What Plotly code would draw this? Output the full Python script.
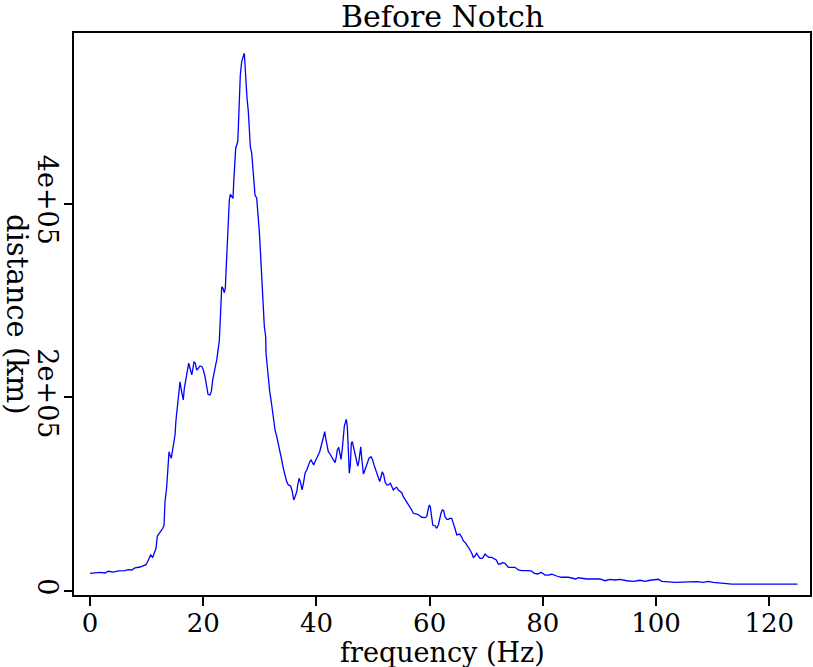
import plotly.graph_objects as go

# frequency (Hz) and amplitude (in thousands)
freq = [0, 0.88, 1.77, 2.65, 3.23, 4.12, 5.0, 6.18, 6.77, 7.37, 7.95, 8.83, 9.42, 9.89, 10.12,
        10.48, 10.72, 11.08, 11.36, 11.66, 11.89, 12.14, 12.4, 12.8, 13.07, 13.25, 13.55, 13.78,
        13.96, 14.13, 14.36, 14.54, 14.79, 15.02, 15.19, 15.42, 15.67, 15.9, 16.08, 16.31, 16.48,
        16.66, 16.96, 17.19, 17.44, 17.67, 17.97, 18.14, 18.37, 18.6, 18.85, 19.13, 19.43, 19.79,
        20.02, 20.32, 20.62, 20.85, 21.2, 21.43, 21.68, 21.91, 22.14, 22.39, 22.61, 22.85, 22.97,
        23.14, 23.27, 23.5, 23.73, 23.9, 24.03, 24.2, 24.33, 24.43, 24.61, 24.79, 25.04, 25.27,
        25.39, 25.62, 25.74, 25.92, 26.1, 26.2, 26.38, 26.55, 26.8, 26.98, 27.16, 27.26, 27.39,
        27.56, 27.74, 27.97, 28.15, 28.32, 28.57, 28.75, 28.92, 29.15, 29.45, 29.73, 29.91, 30.09,
        30.34, 30.44, 30.6, 30.8, 31.04, 31.1, 31.32, 31.5, 31.75, 31.98, 32.21, 32.46, 32.69,
        32.99, 33.27, 33.57, 33.87, 34.15, 34.45, 34.75, 35.04, 35.46, 35.74, 35.99, 36.22, 36.52,
        36.7, 36.93, 37.16, 37.46, 37.76, 37.99, 38.29, 38.57, 38.82, 39.05, 39.28, 39.52, 39.75,
        40.05, 40.34, 40.58, 40.81, 41.04, 41.29, 41.47, 41.64, 41.87, 42.1, 42.4, 42.7, 42.99,
        43.29, 43.52, 43.69, 43.94, 44.17, 44.35, 44.58, 44.75, 44.93, 45.11, 45.28, 45.46, 45.64,
        45.81, 45.99, 46.17, 46.34, 46.59, 46.82, 47.12, 47.3, 47.47, 47.65, 47.83, 48.0, 48.18,
        48.3, 48.46, 48.76, 48.99, 49.29, 49.65, 49.95, 50.18, 50.48, 50.71, 50.94, 51.18, 51.41,
        51.64, 51.89, 52.12, 52.42, 52.7, 53.06, 53.3, 53.59, 53.89, 54.19, 54.47, 54.77, 55.07,
        55.35, 55.65, 55.95, 56.24, 56.54, 56.84, 57.12, 57.42, 57.9, 58.3, 58.6, 59.19, 59.49,
        59.72, 59.95, 60.12, 60.3, 60.55, 60.95, 61.25, 61.54, 61.78, 62.01, 62.24, 62.49, 62.72,
        63.02, 63.3, 63.6, 63.9, 64.19, 64.49, 64.79, 65.32, 65.67, 65.95, 66.38, 66.84, 67.14,
        67.44, 67.72, 68.02, 68.32, 68.6, 68.9, 69.31, 69.79, 70.14, 70.49, 70.97, 71.43, 71.78,
        72.14, 72.49, 72.84, 73.32, 73.9, 74.5, 75.09, 75.67, 76.27, 77.16, 77.92, 78.5, 79.1,
        79.68, 80.39, 80.97, 81.57, 82.46, 83.22, 84.5, 85.11, 85.81, 86.27, 86.87, 87.46, 87.76,
        90.1, 91.0, 91.87, 92.76, 93.64, 94.82, 95.99, 97.17, 98.06, 98.94, 100.4, 101.0, 103.4,
        107.2, 108.4, 109.2, 110.1, 111.6, 113.4, 125]

amp_k = [18.3, 18.6, 19.3, 18.6, 20.4, 19.6, 20.7, 21.0, 22.0, 21.7, 23.8, 24.8, 26.1, 27.2, 29.7,
         34.8, 37.2, 34.8, 39.0, 44.1, 56.8, 58.6, 61.0, 64.3, 67.7, 92.3, 107.8, 123.3,
         144.0, 140.6, 137.2, 144.0, 152.7, 161.2, 176.7, 190.5, 207.8, 216.3, 209.5, 199.2, 197.4,
         209.5, 219.8, 226.7, 235.4, 230.2, 223.3, 228.4, 237.0, 235.4, 228.4, 230.2, 232.6, 231.8,
         228.4, 221.5, 211.2, 203.3, 202.6, 206.0, 218.1, 226.7, 231.8, 238.8, 247.3, 259.0, 274.9,
         293.9, 314.5, 312.9, 308.3, 312.9, 331.8, 354.2, 373.1, 390.4, 404.1, 410.0, 407.5, 405.9,
         423.1, 442.1, 457.6, 461.0, 464.4, 478.2, 505.7, 533.3, 547.1, 552.3, 554.0, 555.8, 541.9,
         526.4, 509.3, 495.4, 476.5, 459.2, 452.4, 436.9, 417.9, 409.3, 405.9, 388.6, 371.4, 352.5,
         323.2, 300.8, 290.0, 273.2, 262.8, 245.7, 231.8, 216.3, 206.0, 197.4, 185.3, 171.6, 166.4,
         159.5, 152.7, 144.0, 135.4, 126.8, 118.1, 113.0, 109.6, 108.5, 102.6, 94.1, 97.5, 102.6,
         109.6, 116.5, 113.0, 104.4, 113.0, 121.7, 125.1, 130.2, 133.6, 135.4, 132.0, 130.2, 133.6,
         137.2, 140.6, 144.0, 149.1, 154.3, 161.2, 164.7, 157.8, 149.1, 144.0, 141.6, 138.8, 135.4,
         132.6, 138.8, 145.7, 148.5, 140.6, 136.1, 147.5, 159.5, 170.5, 174.0, 177.5, 169.8, 147.5,
         121.7, 130.2, 152.7, 154.3, 147.5, 142.3, 134.5, 129.2, 132.6, 144.0, 149.1, 137.5, 123.3,
         121.0, 123.3, 128.5, 133.6, 137.2, 138.8, 135.4, 130.2, 125.1, 119.9, 116.5, 113.0, 118.1,
         123.3, 119.9, 113.0, 109.6, 109.6, 111.3, 107.8, 104.4, 106.2, 107.2, 104.4, 102.6, 101.6,
         97.5, 94.8, 92.3, 89.9, 87.1, 83.7, 80.3, 79.6, 79.3, 77.5, 76.2, 75.8, 76.8,
         83.7, 88.9, 87.1, 76.8, 68.2, 67.5, 64.8, 68.2, 75.1, 80.3, 83.7, 83.0, 76.8,
         74.1, 74.1, 75.1, 75.1, 68.2, 64.3, 57.9, 58.9, 55.5, 52.0, 49.3, 45.8, 42.4,
         39.0, 34.8, 36.2, 39.0, 36.2, 33.8, 33.8, 38.2, 36.2, 34.8, 34.8, 33.1, 32.0,
         27.9, 27.9, 29.3, 28.6, 24.5, 24.5, 24.5, 21.7, 21.0, 21.0, 20.7, 18.3, 17.6,
         19.3, 16.5, 16.5, 17.3, 15.5, 14.2, 14.2, 13.1, 12.4, 13.7, 13.4, 12.7, 12.4,
         12.4, 10.6, 12.1, 11.4, 12.1, 10.6, 10.0, 11.1, 10.0, 11.1, 12.1, 10.0, 9.0,
         9.6, 9.0, 10.0, 9.0, 8.3, 7.2, 7.2]

amp = [a * 1000 for a in amp_k]

x_ticks = [0, 20, 40, 60, 80, 100, 120]
y_ticks = [0, 200000, 400000]
y_tick_labels = ["0", "2e+05", "4e+05"]

FONT = "DejaVu Serif"

fig = go.Figure()
fig.add_trace(go.Scatter(x=freq, y=amp, mode="lines",
                         line=dict(color="#0000ff", width=1.3), hoverinfo="skip"))

fig.update_layout(
    width=813, height=667,
    margin=dict(l=74, r=3, t=33, b=72),
    paper_bgcolor="white", plot_bgcolor="white",
    showlegend=False,
    font=dict(family=FONT, size=27, color="black"),
    xaxis=dict(range=[-2.83, 127.2], tickvals=x_ticks, ticks="outside", ticklen=9,
               tickwidth=1.5, tickcolor="black", showline=True, linecolor="black",
               linewidth=1.5, mirror=True, showgrid=False, zeroline=False,
               automargin=False, ticklabelstandoff=-5,
               tickfont=dict(family=FONT, size=26)),
    yaxis=dict(range=[-4134, 576700], tickvals=y_ticks, ticktext=y_tick_labels,
               ticks="outside", ticklen=8, tickwidth=1.5, tickcolor="black",
               showline=True, linecolor="black", linewidth=1.5, mirror=True,
               showgrid=False, zeroline=False, tickangle=90, automargin=False,
               ticklabelstandoff=-6,
               tickfont=dict(family=FONT, size=27)),
    annotations=[
        dict(text="Before Notch", x=0.5, y=1, xref="paper", yref="paper",
             yshift=17, xanchor="center", yanchor="middle", showarrow=False,
             font=dict(family=FONT, size=30)),
        dict(text="frequency (Hz)", x=0.5, y=0, xref="paper", yref="paper",
             yshift=-57, xanchor="center", yanchor="middle", showarrow=False,
             font=dict(family=FONT, size=27)),
        dict(text="distance (km)", x=0, y=0.5, xref="paper", yref="paper",
             xshift=-57, xanchor="center", yanchor="middle", showarrow=False,
             textangle=90, font=dict(family=FONT, size=29)),
    ],
)

fig.write_html(
    "out.html",
    config={"displayModeBar": False},
    post_script="document.body.style.margin='0';document.body.style.overflow='hidden';",
)
